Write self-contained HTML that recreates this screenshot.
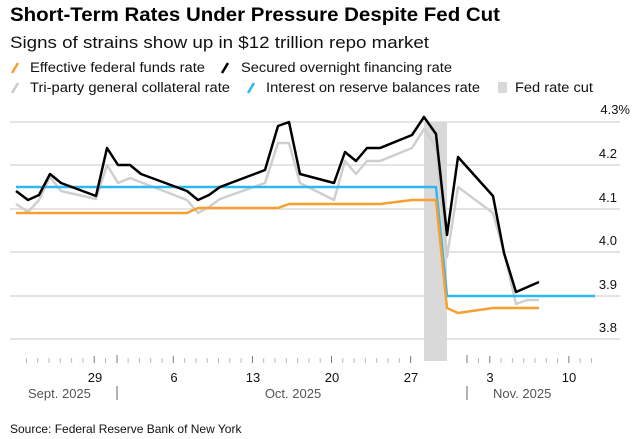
<!DOCTYPE html>
<html><head><meta charset="utf-8"><style>
html,body{margin:0;padding:0;background:#fff;}
svg{display:block;font-family:"Liberation Sans",Arial,sans-serif;}
</style></head><body>
<svg width="636" height="439" viewBox="0 0 636 439" xmlns="http://www.w3.org/2000/svg">
<text x="10" y="21" font-size="19" font-weight="bold" fill="#000" textLength="490" lengthAdjust="spacingAndGlyphs">Short-Term Rates Under Pressure Despite Fed Cut</text>
<text x="10" y="48" font-size="17" fill="#111" textLength="419" lengthAdjust="spacingAndGlyphs">Signs of strains show up in $12 trillion repo market</text>
<g font-size="13.5" fill="#111">
<line x1="12" y1="73" x2="18" y2="63" stroke="#f7a030" stroke-width="2.5"/>
<text x="30" y="72" textLength="175" lengthAdjust="spacingAndGlyphs">Effective federal funds rate</text>
<line x1="222" y1="73" x2="228" y2="63" stroke="#000" stroke-width="2.5"/>
<text x="241" y="72" textLength="211" lengthAdjust="spacingAndGlyphs">Secured overnight financing rate</text>
<line x1="12" y1="93" x2="18" y2="83" stroke="#ccc" stroke-width="2.5"/>
<text x="30" y="92" textLength="200" lengthAdjust="spacingAndGlyphs">Tri-party general collateral rate</text>
<line x1="248" y1="93" x2="254" y2="83" stroke="#2fb8ef" stroke-width="2.5"/>
<text x="266" y="92" textLength="214" lengthAdjust="spacingAndGlyphs">Interest on reserve balances rate</text>
<rect x="498" y="82" width="9" height="11" fill="#d9d9d9"/>
<text x="515" y="92" textLength="78" lengthAdjust="spacingAndGlyphs">Fed rate cut</text>
</g>
<g stroke="#d4d4d4" stroke-width="1.2">
<line x1="10" y1="122" x2="620" y2="122"/>
<line x1="10" y1="165" x2="620" y2="165"/>
<line x1="10" y1="209" x2="620" y2="209"/>
<line x1="10" y1="252" x2="620" y2="252"/>
<line x1="10" y1="296" x2="620" y2="296"/>
<line x1="10" y1="339" x2="620" y2="339"/>
</g>
<g font-size="13" fill="#111" text-anchor="end">
<text x="630" y="114">4.3%</text>
<text x="617" y="158">4.2</text>
<text x="617" y="202">4.1</text>
<text x="617" y="245">4.0</text>
<text x="617" y="289">3.9</text>
<text x="617" y="332">3.8</text>
</g>
<rect x="424" y="122" width="23" height="239" fill="#d9d9d9"/>
<g font-size="13" fill="#111" text-anchor="middle">
<text x="95" y="382">29</text><text x="174" y="382">6</text><text x="253" y="382">13</text>
<text x="332" y="382">20</text><text x="411" y="382">27</text><text x="490" y="382">3</text><text x="569" y="382">10</text>
</g>
<g font-size="13" fill="#555">
<text x="28" y="398">Sept. 2025</text>
<text x="293" y="398" text-anchor="middle">Oct. 2025</text>
<text x="493" y="398">Nov. 2025</text>
</g>
<line x1="117" y1="386" x2="117" y2="400" stroke="#666" stroke-width="1"/>
<line x1="467" y1="386" x2="467" y2="400" stroke="#666" stroke-width="1"/>
<g fill="none" stroke-width="2.5" stroke-linejoin="round">
<polyline stroke="#cfcfcf" points="16,204 28,212 39,200 50,177 61,191 96,199 107,165 118,183 130,178 187,200 198,213 209,207 220,199 265,183 278,143 289,143 300,183 334,200 345,161 356,174 367,161 380,161 412,148 424,129 436,147 447,257 458,187 493,213 504,252 516,304 527,300 539,300"/>
<polyline stroke="#2fb8ef" points="16,187 436,187 447,296 595,296"/>
<polyline stroke="#f7a030" points="16,213 187,213 198,208 278,208 289,204 380,204 412,200 436,200 447,308 458,313 493,308 539,308"/>
<polyline stroke="#000" points="16,191 28,200 39,195 50,174 61,183 96,196 107,148 118,165 130,165 141,174 187,191 198,200 209,195 220,187 265,170 278,126 289,122 300,174 334,183 345,152 356,161 367,148 380,148 412,135 424,117 436,134 447,235 458,157 493,196 504,253 516,292 539,282"/>
</g>
<g stroke="#bbb" stroke-width="1">
<line x1="26.4" y1="358" x2="26.4" y2="363"/><line x1="37.7" y1="358" x2="37.7" y2="363"/><line x1="49" y1="358" x2="49" y2="363"/><line x1="60.3" y1="358" x2="60.3" y2="363"/><line x1="71.6" y1="358" x2="71.6" y2="363"/><line x1="82.9" y1="358" x2="82.9" y2="363"/><line x1="94.2" y1="356" x2="94.2" y2="363" stroke="#777"/><line x1="105.5" y1="358" x2="105.5" y2="363"/><line x1="117" y1="355" x2="117" y2="363" stroke="#777"/><line x1="128.1" y1="358" x2="128.1" y2="363"/><line x1="139.4" y1="358" x2="139.4" y2="363"/><line x1="150.7" y1="358" x2="150.7" y2="363"/><line x1="162" y1="358" x2="162" y2="363"/><line x1="173.3" y1="356" x2="173.3" y2="363" stroke="#777"/><line x1="184.6" y1="358" x2="184.6" y2="363"/><line x1="195.9" y1="358" x2="195.9" y2="363"/><line x1="207.2" y1="358" x2="207.2" y2="363"/><line x1="218.5" y1="358" x2="218.5" y2="363"/><line x1="229.8" y1="358" x2="229.8" y2="363"/><line x1="241.1" y1="358" x2="241.1" y2="363"/><line x1="252.4" y1="356" x2="252.4" y2="363" stroke="#777"/><line x1="263.7" y1="358" x2="263.7" y2="363"/><line x1="275" y1="358" x2="275" y2="363"/><line x1="286.3" y1="358" x2="286.3" y2="363"/><line x1="297.6" y1="358" x2="297.6" y2="363"/><line x1="308.9" y1="358" x2="308.9" y2="363"/><line x1="320.2" y1="358" x2="320.2" y2="363"/><line x1="331.5" y1="356" x2="331.5" y2="363" stroke="#777"/><line x1="342.8" y1="358" x2="342.8" y2="363"/><line x1="354.1" y1="358" x2="354.1" y2="363"/><line x1="365.4" y1="358" x2="365.4" y2="363"/><line x1="376.7" y1="358" x2="376.7" y2="363"/><line x1="388" y1="358" x2="388" y2="363"/><line x1="399.3" y1="358" x2="399.3" y2="363"/><line x1="410.6" y1="356" x2="410.6" y2="363" stroke="#777"/><line x1="467" y1="355" x2="467" y2="363" stroke="#777"/><line x1="478.5" y1="358" x2="478.5" y2="363"/><line x1="489.8" y1="356" x2="489.8" y2="363" stroke="#777"/><line x1="501.1" y1="358" x2="501.1" y2="363"/><line x1="512.4" y1="358" x2="512.4" y2="363"/><line x1="523.7" y1="358" x2="523.7" y2="363"/><line x1="535" y1="358" x2="535" y2="363"/><line x1="546.3" y1="358" x2="546.3" y2="363"/><line x1="557.6" y1="358" x2="557.6" y2="363"/><line x1="568.9" y1="356" x2="568.9" y2="363" stroke="#777"/><line x1="580.2" y1="358" x2="580.2" y2="363"/><line x1="591.5" y1="358" x2="591.5" y2="363"/>
</g>
<text x="10" y="433" font-size="12" fill="#111">Source: Federal Reserve Bank of New York</text>
</svg>
</body></html>
